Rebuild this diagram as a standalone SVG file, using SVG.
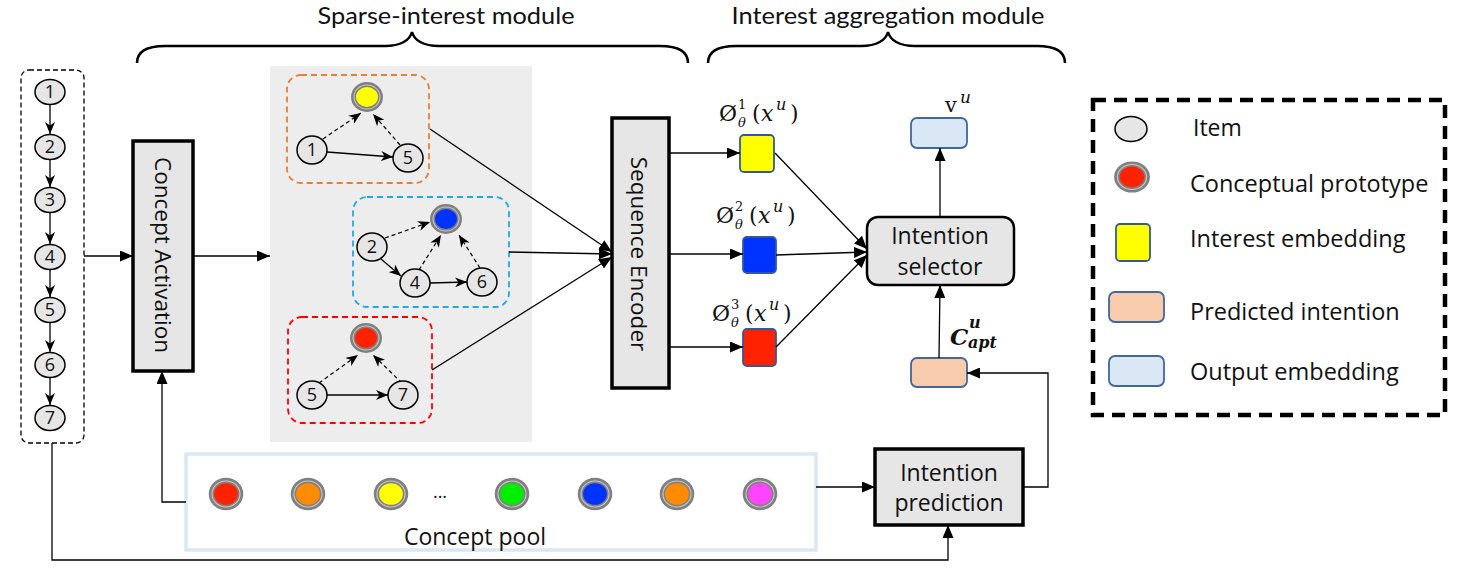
<svg xmlns="http://www.w3.org/2000/svg" xmlns:xlink="http://www.w3.org/1999/xlink" width="1461" height="577" viewBox="0 0 1461 577">
<style>
.t{font-family:"Open Sans","Liberation Sans",sans-serif;fill:#111;}
.ttl{font-family:Lato,"Open Sans","Liberation Sans",sans-serif;font-size:23px;fill:#111;}
.num{font-family:"Open Sans","Liberation Sans",sans-serif;font-size:18px;fill:#111;text-anchor:middle;}
.m{font-family:"DejaVu Serif","Liberation Serif",serif;fill:#111;}
.item{fill:#e6e6e6;stroke:#000;stroke-width:1.5;}
.box{fill:#e6e6e6;stroke:#000;stroke-width:3.5;}
.emb{stroke:#34599a;stroke-width:1.8;}
.arr{fill:none;stroke:#000;stroke-width:1.3;marker-end:url(#tri);}
.sa{fill:none;stroke:#000;stroke-width:1.3;marker-end:url(#st);}
.da{fill:none;stroke:#000;stroke-width:1.2;stroke-dasharray:4 3;marker-end:url(#st);}
.brace{fill:none;stroke:#000;stroke-width:2.5;}
</style>
<defs>
<marker id="tri" viewBox="0 0 13 11" refX="13" refY="5.5" markerWidth="13" markerHeight="11" markerUnits="userSpaceOnUse" orient="auto"><path d="M0,0 L13,5.5 L0,11 z" fill="#000"/></marker>
<marker id="st" viewBox="0 0 12 10" refX="12" refY="5" markerWidth="12" markerHeight="10" markerUnits="userSpaceOnUse" orient="auto"><path d="M0,0 L12,5 L0,10 L3.5,5 z" fill="#000"/></marker>
<g id="proto">
<ellipse rx="16" ry="15" fill="#808080"/>
<ellipse rx="13.5" ry="12.5" fill="#c8c8c8"/>
<ellipse rx="12.5" ry="11.5" fill="#808080"/>
<ellipse rx="11" ry="10" fill="currentColor"/>
</g>
</defs>
<rect width="1461" height="577" fill="#fff"/>

<!-- titles and braces -->
<g id="titles">
<text class="ttl" x="446" y="24" text-anchor="middle" textLength="257" lengthAdjust="spacingAndGlyphs">Sparse-interest module</text>
<text class="ttl" x="888" y="24" text-anchor="middle" textLength="313" lengthAdjust="spacingAndGlyphs">Interest aggregation module</text>
<path class="brace" d="M137,63 C137,52 145,46 165,46 L385,46 C401,46 410,40 412,32 C414,40 423,46 439,46 L660,46 C680,46 688,52 688,63"/>
<path class="brace" d="M708,63 C708,52 716,46 736,46 L861,46 C877,46 886,40 888,32 C890,40 899,46 915,46 L1037,46 C1057,46 1065,52 1065,63"/>
</g>

<!-- gray sparse area -->
<rect id="sparse-area" x="270" y="66" width="262" height="376" fill="#ededed"/>

<!-- input sequence -->
<g id="sequence">
<rect x="21" y="70" width="63" height="373" rx="8" fill="none" stroke="#000" stroke-width="1.3" stroke-dasharray="5 3"/>
<g class="seqarr">
<line class="sa" x1="50" y1="104" x2="50" y2="134"/>
<line class="sa" x1="50" y1="159" x2="50" y2="187"/>
<line class="sa" x1="50" y1="212" x2="50" y2="244"/>
<line class="sa" x1="50" y1="269" x2="50" y2="297"/>
<line class="sa" x1="50" y1="322" x2="50" y2="352"/>
<line class="sa" x1="50" y1="377" x2="50" y2="405"/>
</g>
<ellipse class="item" cx="50" cy="92" rx="15" ry="12.5"/><text class="num" x="50" y="98">1</text>
<ellipse class="item" cx="50" cy="147" rx="15" ry="12.5"/><text class="num" x="50" y="153">2</text>
<ellipse class="item" cx="50" cy="200" rx="15" ry="12.5"/><text class="num" x="50" y="206">3</text>
<ellipse class="item" cx="50" cy="257" rx="15" ry="12.5"/><text class="num" x="50" y="263">4</text>
<ellipse class="item" cx="50" cy="310" rx="15" ry="12.5"/><text class="num" x="50" y="316">5</text>
<ellipse class="item" cx="50" cy="365" rx="15" ry="12.5"/><text class="num" x="50" y="371">6</text>
<ellipse class="item" cx="50" cy="418" rx="15" ry="12.5"/><text class="num" x="50" y="424">7</text>
</g>

<!-- Concept Activation -->
<g id="concept-activation">
<rect class="box" x="133" y="141" width="60" height="230"/>
<text class="t" font-size="22.5" transform="translate(155,255) rotate(90)" text-anchor="middle">Concept Activation</text>
</g>

<!-- cluster 1 (orange) -->
<g id="cluster-orange">
<rect x="287" y="75" width="142" height="108" rx="14" fill="none" stroke="#ed7d31" stroke-width="1.8" stroke-dasharray="6 4"/>
<line class="sa" x1="327" y1="152" x2="393" y2="157"/>
<line class="da" x1="323" y1="139" x2="361" y2="113"/>
<line class="da" x1="400" y1="145" x2="373" y2="114"/>
<use href="#proto" x="367" y="97" color="#ffff00"/>
<ellipse class="item" cx="312" cy="150" rx="15" ry="14"/><text class="num" x="312" y="156">1</text>
<ellipse class="item" cx="408" cy="158" rx="15" ry="14"/><text class="num" x="408" y="164">5</text>
</g>

<!-- cluster 2 (blue) -->
<g id="cluster-blue">
<rect x="353" y="197" width="156" height="110" rx="14" fill="none" stroke="#1fa9e6" stroke-width="1.8" stroke-dasharray="6 4"/>
<line class="da" x1="385" y1="238" x2="430" y2="222"/>
<line class="sa" x1="381" y1="259" x2="401" y2="276"/>
<line class="da" x1="419" y1="270" x2="441" y2="235"/>
<line class="sa" x1="430" y1="283" x2="467" y2="282"/>
<line class="da" x1="480" y1="268" x2="459" y2="235"/>
<use href="#proto" x="446" y="219" color="#0033ff"/>
<ellipse class="item" cx="372" cy="247" rx="15" ry="14"/><text class="num" x="372" y="253">2</text>
<ellipse class="item" cx="415" cy="283" rx="15" ry="14"/><text class="num" x="415" y="289">4</text>
<ellipse class="item" cx="482" cy="282" rx="15" ry="14"/><text class="num" x="482" y="288">6</text>
</g>

<!-- cluster 3 (red) -->
<g id="cluster-red">
<rect x="288" y="317" width="144" height="106" rx="14" fill="none" stroke="#ff0000" stroke-width="1.8" stroke-dasharray="6 4"/>
<line class="sa" x1="327" y1="395" x2="388" y2="395"/>
<line class="da" x1="319" y1="383" x2="358" y2="355"/>
<line class="da" x1="402" y1="383" x2="373" y2="355"/>
<use href="#proto" x="366" y="338" color="#ff2200"/>
<ellipse class="item" cx="312" cy="395" rx="15" ry="14"/><text class="num" x="312" y="401">5</text>
<ellipse class="item" cx="403" cy="395" rx="15" ry="14"/><text class="num" x="403" y="401">7</text>
</g>

<!-- Sequence Encoder -->
<g id="sequence-encoder">
<rect class="box" x="612" y="118" width="57" height="270"/>
<text class="t" font-size="22.5" transform="translate(631,254) rotate(90)" text-anchor="middle">Sequence Encoder</text>
</g>

<!-- interest embeddings -->
<g id="emb-1">
<rect class="emb" x="740" y="135" width="34" height="37" rx="4" fill="#ffff00"/>
<text class="m"><tspan x="719" y="121" font-size="22">Ø</tspan><tspan x="738" y="109" font-size="13">1</tspan><tspan x="738" y="127" font-size="13" font-style="italic">θ</tspan><tspan x="752" y="121" font-size="22">(</tspan><tspan x="761" y="121" font-size="22" font-style="italic">x</tspan><tspan x="776" y="110" font-size="16" font-style="italic">u</tspan><tspan x="790" y="121" font-size="22">)</tspan></text>
</g>
<g id="emb-2">
<rect class="emb" x="743" y="237" width="33" height="36" rx="4" fill="#0033ff"/>
<text class="m"><tspan x="716" y="223" font-size="22">Ø</tspan><tspan x="735" y="211" font-size="13">2</tspan><tspan x="735" y="229" font-size="13" font-style="italic">θ</tspan><tspan x="749" y="223" font-size="22">(</tspan><tspan x="758" y="223" font-size="22" font-style="italic">x</tspan><tspan x="773" y="212" font-size="16" font-style="italic">u</tspan><tspan x="787" y="223" font-size="22">)</tspan></text>
</g>
<g id="emb-3">
<rect class="emb" x="743" y="329" width="33" height="37" rx="4" fill="#ff2200"/>
<text class="m"><tspan x="712" y="321" font-size="22">Ø</tspan><tspan x="731" y="309" font-size="13">3</tspan><tspan x="731" y="327" font-size="13" font-style="italic">θ</tspan><tspan x="745" y="321" font-size="22">(</tspan><tspan x="754" y="321" font-size="22" font-style="italic">x</tspan><tspan x="769" y="310" font-size="16" font-style="italic">u</tspan><tspan x="783" y="321" font-size="22">)</tspan></text>
</g>

<!-- Intention selector -->
<g id="intention-selector">
<rect x="867" y="217" width="147" height="68" rx="11" fill="#e6e6e6" stroke="#000" stroke-width="2.5"/>
<text class="t" font-size="23" x="940" y="244" text-anchor="middle">Intention</text>
<text class="t" font-size="23" x="940" y="275" text-anchor="middle">selector</text>
</g>

<!-- output embedding -->
<g id="output-embedding">
<rect x="911" y="118" width="56" height="30" rx="6" fill="#dae7f4" stroke="#41679c" stroke-width="1.8"/>
<text class="m"><tspan x="945" y="112" font-size="21">v</tspan><tspan x="960" y="103" font-size="17" font-style="italic">u</tspan></text>
</g>

<!-- predicted intention -->
<g id="predicted-intention">
<rect x="911" y="358" width="56" height="29" rx="6" fill="#f8cbad" stroke="#41679c" stroke-width="1.8"/>
<text class="m" font-weight="bold" font-style="italic"><tspan x="950" y="345" font-size="23">C</tspan><tspan x="969" y="328" font-size="16">u</tspan><tspan x="968" y="348" font-size="16">apt</tspan></text>
</g>

<!-- Intention prediction -->
<g id="intention-prediction">
<rect class="box" x="875" y="449" width="148" height="76"/>
<text class="t" font-size="23" x="949" y="481" text-anchor="middle">Intention</text>
<text class="t" font-size="23" x="949" y="511" text-anchor="middle">prediction</text>
</g>

<!-- Concept pool -->
<g id="concept-pool">
<rect x="186" y="454" width="630" height="96" fill="#fff" stroke="#dae7f4" stroke-width="3.5"/>
<use href="#proto" transform="translate(226,494) scale(1.08)" color="#ff2200"/>
<use href="#proto" transform="translate(308,494) scale(1.08)" color="#ff8c00"/>
<use href="#proto" transform="translate(391,494) scale(1.08)" color="#ffff00"/>
<text class="t" font-size="18" x="440" y="498" text-anchor="middle">...</text>
<use href="#proto" transform="translate(512,494) scale(1.08)" color="#00ee00"/>
<use href="#proto" transform="translate(595,494) scale(1.08)" color="#0033ff"/>
<use href="#proto" transform="translate(677,494) scale(1.08)" color="#ff8c00"/>
<use href="#proto" transform="translate(760,494) scale(1.08)" color="#ff44ff"/>
<text class="t" font-size="23" x="475" y="545" text-anchor="middle">Concept pool</text>
</g>

<!-- legend -->
<g id="legend">
<rect x="1093" y="100" width="352" height="315" fill="none" stroke="#000" stroke-width="4.5" stroke-dasharray="13 8"/>
<ellipse class="item" cx="1131" cy="129" rx="16" ry="12.5"/>
<text class="t" font-size="23" x="1193" y="136">Item</text>
<use href="#proto" transform="translate(1132,177) scale(1.12,1.04)" color="#ff2200"/>
<text class="t" font-size="23.5" x="1190" y="192">Conceptual prototype</text>
<rect class="emb" x="1116" y="224" width="34" height="37" rx="4" fill="#ffff00"/>
<text class="t" font-size="23.5" x="1190" y="247">Interest embedding</text>
<rect x="1109" y="292" width="55" height="30" rx="6" fill="#f8cbad" stroke="#41679c" stroke-width="1.8"/>
<text class="t" font-size="23.5" x="1190" y="320">Predicted intention</text>
<rect x="1109" y="356" width="55" height="30" rx="6" fill="#dae7f4" stroke="#41679c" stroke-width="1.8"/>
<text class="t" font-size="23.5" x="1190" y="380">Output embedding</text>
</g>

<!-- connectors -->
<g id="connectors">
<line class="arr" x1="84" y1="256" x2="133" y2="256"/>
<line class="arr" x1="193" y1="256" x2="270" y2="256"/>
<polyline class="arr" points="186,502 162,502 162,371"/>
<line class="arr" x1="430" y1="129" x2="612" y2="252"/>
<line class="arr" x1="509" y1="252" x2="612" y2="254"/>
<line class="arr" x1="432" y1="370" x2="612" y2="257"/>
<line class="arr" x1="669" y1="153" x2="740" y2="153"/>
<line class="arr" x1="669" y1="254" x2="743" y2="254"/>
<line class="arr" x1="669" y1="347" x2="743" y2="347"/>
<line class="arr" x1="775" y1="153" x2="867" y2="249"/>
<line class="arr" x1="776" y1="255" x2="867" y2="252"/>
<line class="arr" x1="776" y1="347" x2="867" y2="255"/>
<line class="arr" x1="940" y1="217" x2="940" y2="148" stroke="#777"/>
<line class="arr" x1="939" y1="358" x2="940" y2="285"/>
<line class="arr" x1="816" y1="487" x2="875" y2="487"/>
<polyline class="arr" points="1023,487 1048,487 1048,373 967,373"/>
<polyline class="arr" points="52,443 52,560 948,560 948,525"/>
</g>
</svg>
